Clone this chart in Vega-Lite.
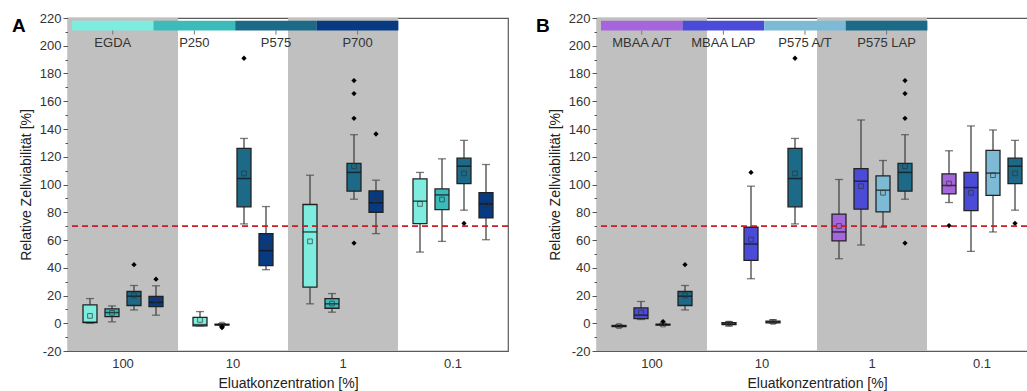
{
  "$schema": "https://vega.github.io/schema/vega-lite/v6.json",
  "background": "white",
  "padding": {"left": 11, "top": 11, "right": 0, "bottom": 0},
  "config": {
    "font": "Liberation Sans",
    "view": {"stroke": "#5a5a5a", "strokeWidth": 1.2},
    "axis": {"labelFont": "Liberation Sans", "labelFontSize": 13, "labelColor": "#333", "titleFont": "Liberation Sans", "titleFontSize": 14, "titleFontWeight": "normal", "titleColor": "#222", "domainColor": "#555", "tickColor": "#555", "grid": false},
    "axisY": {"labelOverlap": false}
  },
  "datasets": {
    "bands": [{"conc": "100"}, {"conc": "1"}],
    "boxA": [
      {"conc": "100", "mat": "EGDA", "lo": 0, "q1": 0.5, "med": 0.8, "q3": 13.3, "hi": 17.8, "mean": 5.3},
      {"conc": "100", "mat": "P250", "lo": 1, "q1": 4.8, "med": 7.7, "q3": 10.4, "hi": 12.5, "mean": 7.5},
      {"conc": "100", "mat": "P575", "lo": 9.6, "q1": 12.8, "med": 19.5, "q3": 22.9, "hi": 27.2, "mean": 20},
      {"conc": "100", "mat": "P700", "lo": 5.8, "q1": 12, "med": 15, "q3": 19.3, "hi": 27, "mean": 16.9},
      {"conc": "10", "mat": "EGDA", "lo": -2, "q1": -1.9, "med": -1, "q3": 4.3, "hi": 8.4, "mean": 2.4},
      {"conc": "10", "mat": "P250", "lo": -1.5, "q1": -1.3, "med": -1, "q3": -0.7, "hi": -0.3, "mean": -1},
      {"conc": "10", "mat": "P575", "lo": 71.6, "q1": 83.9, "med": 104.3, "q3": 126, "hi": 133.2, "mean": 108},
      {"conc": "10", "mat": "P700", "lo": 38.6, "q1": 41.5, "med": 52.3, "q3": 64.6, "hi": 84.1, "mean": 55},
      {"conc": "1", "mat": "EGDA", "lo": 14, "q1": 26, "med": 65.8, "q3": 85.6, "hi": 106.7, "mean": 59},
      {"conc": "1", "mat": "P250", "lo": 8, "q1": 10.8, "med": 14, "q3": 17.8, "hi": 21.4, "mean": 14.2},
      {"conc": "1", "mat": "P575", "lo": 89.4, "q1": 95.2, "med": 108.7, "q3": 115.2, "hi": 135.9, "mean": 113.2},
      {"conc": "1", "mat": "P700", "lo": 64.6, "q1": 80, "med": 86.8, "q3": 95.4, "hi": 103.1, "mean": 88.4},
      {"conc": "0.1", "mat": "EGDA", "lo": 51.3, "q1": 71.8, "med": 88, "q3": 104.1, "hi": 108.7, "mean": 86},
      {"conc": "0.1", "mat": "P250", "lo": 59, "q1": 81.9, "med": 92.5, "q3": 96.8, "hi": 118.5, "mean": 89.2},
      {"conc": "0.1", "mat": "P575", "lo": 81.5, "q1": 100.7, "med": 113.2, "q3": 119, "hi": 131.8, "mean": 108},
      {"conc": "0.1", "mat": "P700", "lo": 60.2, "q1": 75.9, "med": 86, "q3": 94.2, "hi": 114.4, "mean": 85.5}
    ],
    "outA": [
      {"conc": "100", "mat": "P575", "v": 42.2},
      {"conc": "100", "mat": "P700", "v": 31.8},
      {"conc": "10", "mat": "P250", "v": -2.5},
      {"conc": "10", "mat": "P250", "v": -3.2},
      {"conc": "10", "mat": "P575", "v": 191},
      {"conc": "1", "mat": "P575", "v": 174.9},
      {"conc": "1", "mat": "P575", "v": 165.5},
      {"conc": "1", "mat": "P575", "v": 147.7},
      {"conc": "1", "mat": "P575", "v": 57.8},
      {"conc": "1", "mat": "P700", "v": 136.4},
      {"conc": "0.1", "mat": "P575", "v": 72}
    ],
    "legA": [{"mat": "EGDA"}, {"mat": "P250"}, {"mat": "P575"}, {"mat": "P700"}],
    "boxB": [
      {"conc": "100", "mat": "MBAA A/T", "lo": -2.8, "q1": -2.4, "med": -2, "q3": -1.6, "hi": -1.2, "mean": -2},
      {"conc": "100", "mat": "MBAA LAP", "lo": 2.7, "q1": 3.4, "med": 5.8, "q3": 11.1, "hi": 15.7, "mean": 7.7},
      {"conc": "100", "mat": "P575 A/T", "lo": -1.5, "q1": -1.3, "med": -1, "q3": -0.7, "hi": -0.4, "mean": -0.9},
      {"conc": "100", "mat": "P575 LAP", "lo": 9.6, "q1": 12.8, "med": 19.5, "q3": 22.9, "hi": 27.2, "mean": 20},
      {"conc": "10", "mat": "MBAA A/T", "lo": -2, "q1": -1, "med": -0.5, "q3": 0.5, "hi": 1.2, "mean": -0.3},
      {"conc": "10", "mat": "MBAA LAP", "lo": 32.1, "q1": 45.3, "med": 57.1, "q3": 69.2, "hi": 98.8, "mean": 60.3},
      {"conc": "10", "mat": "P575 A/T", "lo": 0, "q1": 0.3, "med": 1, "q3": 1.6, "hi": 2.5, "mean": 1},
      {"conc": "10", "mat": "P575 LAP", "lo": 71.6, "q1": 83.9, "med": 104.3, "q3": 126, "hi": 133.2, "mean": 108},
      {"conc": "1", "mat": "MBAA A/T", "lo": 46.5, "q1": 59.3, "med": 65.8, "q3": 78.6, "hi": 103.6, "mean": 70.1},
      {"conc": "1", "mat": "MBAA LAP", "lo": 56.4, "q1": 82.2, "med": 102.4, "q3": 111.5, "hi": 146.5, "mean": 98.8},
      {"conc": "1", "mat": "P575 A/T", "lo": 69.2, "q1": 80.3, "med": 95.9, "q3": 106.2, "hi": 117.3, "mean": 94},
      {"conc": "1", "mat": "P575 LAP", "lo": 89.4, "q1": 95.2, "med": 108.7, "q3": 115.2, "hi": 135.9, "mean": 113.2},
      {"conc": "0.1", "mat": "MBAA A/T", "lo": 87, "q1": 93.3, "med": 99.3, "q3": 107.7, "hi": 124.3, "mean": 100.7},
      {"conc": "0.1", "mat": "MBAA LAP", "lo": 51.8, "q1": 81.2, "med": 97.8, "q3": 108.7, "hi": 142.2, "mean": 94},
      {"conc": "0.1", "mat": "P575 A/T", "lo": 65.8, "q1": 92.1, "med": 108.2, "q3": 124.6, "hi": 139.3, "mean": 106.7},
      {"conc": "0.1", "mat": "P575 LAP", "lo": 81.5, "q1": 100.7, "med": 113.2, "q3": 119, "hi": 131.8, "mean": 108}
    ],
    "outB": [
      {"conc": "100", "mat": "P575 A/T", "v": 1.2},
      {"conc": "100", "mat": "P575 LAP", "v": 42.2},
      {"conc": "10", "mat": "MBAA LAP", "v": 108.7},
      {"conc": "10", "mat": "P575 LAP", "v": 191},
      {"conc": "1", "mat": "P575 LAP", "v": 174.9},
      {"conc": "1", "mat": "P575 LAP", "v": 165.5},
      {"conc": "1", "mat": "P575 LAP", "v": 147.7},
      {"conc": "1", "mat": "P575 LAP", "v": 57.8},
      {"conc": "0.1", "mat": "MBAA A/T", "v": 70.4},
      {"conc": "0.1", "mat": "P575 LAP", "v": 72}
    ],
    "legB": [{"mat": "MBAA A/T"}, {"mat": "MBAA LAP"}, {"mat": "P575 A/T"}, {"mat": "P575 LAP"}]
  },
  "hconcat": [
    {
      "width": 440,
      "height": 333,
      "title": {"text": "A", "anchor": "start", "frame": "group", "orient": "top", "fontSize": 19, "fontWeight": "bold", "color": "#000", "font": "Liberation Sans", "dx": -56, "dy": 24, "baseline": "top", "offset": 0},
      "layer": [
        {
          "encoding": {
            "x": {"field": "conc", "type": "nominal", "sort": ["100", "10", "1", "0.1"], "scale": {"domain": ["100", "10", "1", "0.1"], "paddingInner": 0, "paddingOuter": 0}, "axis": {"title": "Eluatkonzentration [%]", "ticks": false, "domain": false, "labelAngle": 0, "labelPadding": 6, "titlePadding": 6}},
            "y": {"type": "quantitative", "scale": {"domain": [-20, 220], "nice": false, "zero": false}, "axis": {"title": "Relative Zellviabilität [%]", "values": [-20, -10, 0, 10, 20, 30, 40, 50, 60, 70, 80, 90, 100, 110, 120, 130, 140, 150, 160, 170, 180, 190, 200, 210, 220], "labelExpr": "datum.value % 20 === 0 ? '' + datum.value : ''", "labelOverlap": false, "labelFlush": false, "tickSize": {"condition": {"test": "datum.value % 20 !== 0", "value": 3}, "value": 5}, "titlePadding": 6}}
          },
          "layer": [
            {"data": {"name": "bands"}, "mark": {"type": "rect", "color": "#c0c0c0"}, "encoding": {"y": {"datum": -20}, "y2": {"datum": 220}}},
            {"data": {"name": "boxA"}, "mark": {"type": "rule", "color": "#444", "strokeWidth": 1.3}, "encoding": {"xOffset": {"field": "mat", "type": "nominal", "scale": {"domain": ["EGDA", "P250", "P575", "P700"], "paddingInner": 0, "paddingOuter": 0.5}}, "y": {"field": "lo"}, "y2": {"field": "hi"}}},
            {"data": {"name": "boxA"}, "mark": {"type": "tick", "color": "#444", "size": 8, "thickness": 1.3}, "encoding": {"xOffset": {"field": "mat", "type": "nominal"}, "y": {"field": "lo"}}},
            {"data": {"name": "boxA"}, "mark": {"type": "tick", "color": "#444", "size": 8, "thickness": 1.3}, "encoding": {"xOffset": {"field": "mat", "type": "nominal"}, "y": {"field": "hi"}}},
            {"data": {"name": "boxA"}, "mark": {"type": "bar", "width": 14, "stroke": "#222", "strokeWidth": 1.3}, "encoding": {"xOffset": {"field": "mat", "type": "nominal"}, "y": {"field": "q1"}, "y2": {"field": "q3"}, "color": {"field": "mat", "type": "nominal", "scale": {"domain": ["EGDA", "P250", "P575", "P700"], "range": ["#7eeddf", "#3cbbbb", "#1c6a87", "#073a80"]}, "legend": null}}},
            {"data": {"name": "boxA"}, "mark": {"type": "tick", "color": "#111", "size": 14, "thickness": 1.5}, "encoding": {"xOffset": {"field": "mat", "type": "nominal"}, "y": {"field": "med"}}},
            {"data": {"name": "boxA"}, "mark": {"type": "point", "shape": "square", "size": 22, "filled": false, "color": "#333", "strokeWidth": 1}, "encoding": {"xOffset": {"field": "mat", "type": "nominal"}, "y": {"field": "mean"}}},
            {"data": {"name": "outA"}, "mark": {"type": "point", "shape": "diamond", "size": 28, "filled": true, "color": "#000", "opacity": 1}, "encoding": {"xOffset": {"field": "mat", "type": "nominal"}, "y": {"field": "v"}}},
            {"data": {"name": "bands"}, "mark": {"type": "rule", "color": "#c8161d", "strokeWidth": 1.3, "strokeDash": [6, 4]}, "encoding": {"x": null, "y": {"datum": 70}}}
          ]
        },
        {
          "data": {"name": "legA"},
          "encoding": {
            "x": {"field": "mat", "type": "nominal", "scale": {"domain": ["EGDA", "P250", "P575", "P700"], "paddingInner": 0, "paddingOuter": 0.696, "align": 0.035}, "axis": null},
            "y": {"type": "quantitative", "axis": {"title": "Relative Zellviabilität [%]", "values": [-20, -10, 0, 10, 20, 30, 40, 50, 60, 70, 80, 90, 100, 110, 120, 130, 140, 150, 160, 170, 180, 190, 200, 210, 220], "labelExpr": "datum.value % 20 === 0 ? '' + datum.value : ''", "labelOverlap": false, "labelFlush": false, "tickSize": {"condition": {"test": "datum.value % 20 !== 0", "value": 3}, "value": 5}, "titlePadding": 6}}
          },
          "layer": [
            {"mark": {"type": "rect"}, "encoding": {"y": {"datum": 218}, "y2": {"datum": 211}, "color": {"field": "mat", "type": "nominal", "legend": null}}},
            {"mark": {"type": "rule", "color": "#777", "strokeWidth": 1}, "encoding": {"y": {"datum": 211}, "y2": {"datum": 208}}},
            {"mark": {"type": "text", "fontSize": 13, "color": "#333", "font": "Liberation Sans"}, "encoding": {"y": {"datum": 202}, "text": {"field": "mat"}}}
          ]
        }
      ],
      "resolve": {"scale": {"x": "independent"}}
    },
    {
      "width": 440,
      "height": 333,
      "title": {"text": "B", "anchor": "start", "frame": "group", "orient": "top", "fontSize": 19, "fontWeight": "bold", "color": "#000", "font": "Liberation Sans", "dx": -61, "dy": 24, "baseline": "top", "offset": 0},
      "layer": [
        {
          "encoding": {
            "x": {"field": "conc", "type": "nominal", "sort": ["100", "10", "1", "0.1"], "scale": {"domain": ["100", "10", "1", "0.1"], "paddingInner": 0, "paddingOuter": 0}, "axis": {"title": "Eluatkonzentration [%]", "ticks": false, "domain": false, "labelAngle": 0, "labelPadding": 6, "titlePadding": 6}},
            "y": {"type": "quantitative", "scale": {"domain": [-20, 220], "nice": false, "zero": false}, "axis": {"title": "Relative Zellviabilität [%]", "values": [-20, -10, 0, 10, 20, 30, 40, 50, 60, 70, 80, 90, 100, 110, 120, 130, 140, 150, 160, 170, 180, 190, 200, 210, 220], "labelExpr": "datum.value % 20 === 0 ? '' + datum.value : ''", "labelOverlap": false, "labelFlush": false, "tickSize": {"condition": {"test": "datum.value % 20 !== 0", "value": 3}, "value": 5}, "titlePadding": 6}}
          },
          "layer": [
            {"data": {"name": "bands"}, "mark": {"type": "rect", "color": "#c0c0c0"}, "encoding": {"y": {"datum": -20}, "y2": {"datum": 220}}},
            {"data": {"name": "boxB"}, "mark": {"type": "rule", "color": "#444", "strokeWidth": 1.3}, "encoding": {"xOffset": {"field": "mat", "type": "nominal", "scale": {"domain": ["MBAA A/T", "MBAA LAP", "P575 A/T", "P575 LAP"], "paddingInner": 0, "paddingOuter": 0.5}}, "y": {"field": "lo"}, "y2": {"field": "hi"}}},
            {"data": {"name": "boxB"}, "mark": {"type": "tick", "color": "#444", "size": 8, "thickness": 1.3}, "encoding": {"xOffset": {"field": "mat", "type": "nominal"}, "y": {"field": "lo"}}},
            {"data": {"name": "boxB"}, "mark": {"type": "tick", "color": "#444", "size": 8, "thickness": 1.3}, "encoding": {"xOffset": {"field": "mat", "type": "nominal"}, "y": {"field": "hi"}}},
            {"data": {"name": "boxB"}, "mark": {"type": "bar", "width": 14, "stroke": "#222", "strokeWidth": 1.3}, "encoding": {"xOffset": {"field": "mat", "type": "nominal"}, "y": {"field": "q1"}, "y2": {"field": "q3"}, "color": {"field": "mat", "type": "nominal", "scale": {"domain": ["MBAA A/T", "MBAA LAP", "P575 A/T", "P575 LAP"], "range": ["#a466da", "#4a4cd8", "#7dbad6", "#1c6a87"]}, "legend": null}}},
            {"data": {"name": "boxB"}, "mark": {"type": "tick", "color": "#111", "size": 14, "thickness": 1.5}, "encoding": {"xOffset": {"field": "mat", "type": "nominal"}, "y": {"field": "med"}}},
            {"data": {"name": "boxB"}, "mark": {"type": "point", "shape": "square", "size": 22, "filled": false, "color": "#333", "strokeWidth": 1}, "encoding": {"xOffset": {"field": "mat", "type": "nominal"}, "y": {"field": "mean"}}},
            {"data": {"name": "outB"}, "mark": {"type": "point", "shape": "diamond", "size": 28, "filled": true, "color": "#000", "opacity": 1}, "encoding": {"xOffset": {"field": "mat", "type": "nominal"}, "y": {"field": "v"}}},
            {"data": {"name": "bands"}, "mark": {"type": "rule", "color": "#c8161d", "strokeWidth": 1.3, "strokeDash": [6, 4]}, "encoding": {"x": null, "y": {"datum": 70}}}
          ]
        },
        {
          "data": {"name": "legB"},
          "encoding": {
            "x": {"field": "mat", "type": "nominal", "scale": {"domain": ["MBAA A/T", "MBAA LAP", "P575 A/T", "P575 LAP"], "paddingInner": 0, "paddingOuter": 0.696, "align": 0.035}, "axis": null},
            "y": {"type": "quantitative", "axis": {"title": "Relative Zellviabilität [%]", "values": [-20, -10, 0, 10, 20, 30, 40, 50, 60, 70, 80, 90, 100, 110, 120, 130, 140, 150, 160, 170, 180, 190, 200, 210, 220], "labelExpr": "datum.value % 20 === 0 ? '' + datum.value : ''", "labelOverlap": false, "labelFlush": false, "tickSize": {"condition": {"test": "datum.value % 20 !== 0", "value": 3}, "value": 5}, "titlePadding": 6}}
          },
          "layer": [
            {"mark": {"type": "rect"}, "encoding": {"y": {"datum": 218}, "y2": {"datum": 211}, "color": {"field": "mat", "type": "nominal", "legend": null}}},
            {"mark": {"type": "rule", "color": "#777", "strokeWidth": 1}, "encoding": {"y": {"datum": 211}, "y2": {"datum": 208}}},
            {"mark": {"type": "text", "fontSize": 13, "color": "#333", "font": "Liberation Sans"}, "encoding": {"y": {"datum": 202}, "text": {"field": "mat"}}}
          ]
        }
      ],
      "resolve": {"scale": {"x": "independent"}}
    }
  ],
  "spacing": 25,
  "resolve": {"scale": {"x": "independent", "xOffset": "independent", "color": "independent"}}
}
